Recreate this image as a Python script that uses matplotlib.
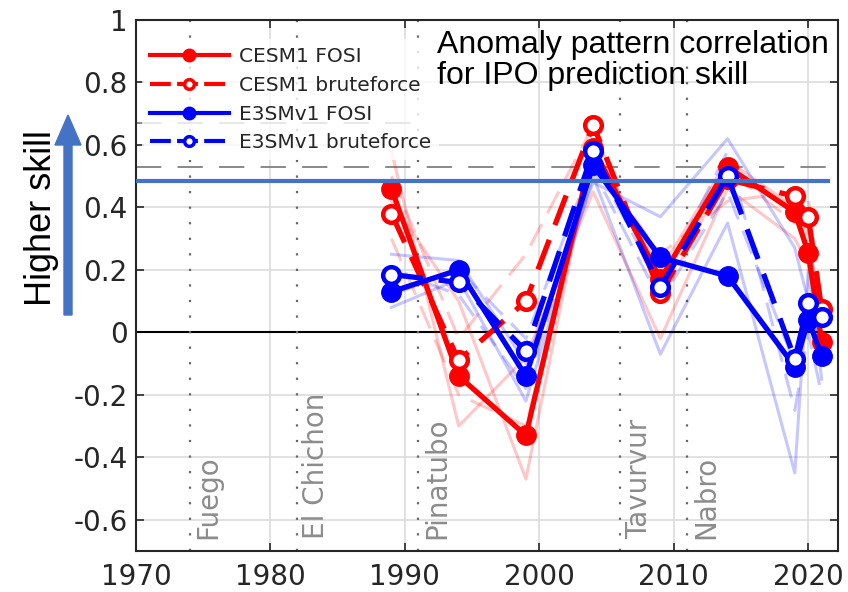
import numpy as np
import matplotlib
matplotlib.use('Agg')
import matplotlib.pyplot as plt
from matplotlib.lines import Line2D
from matplotlib.patches import FancyArrow

years = [1989, 1994, 1999, 2004, 2009, 2014, 2019, 2020, 2021]

cesm_fosi = [0.46, -0.14, -0.33, 0.59, 0.17, 0.53, 0.385, 0.255, -0.03]
cesm_brute = [0.38, -0.09, 0.10, 0.665, 0.125, 0.49, 0.435, 0.37, 0.075]
e3sm_fosi = [0.13, 0.20, -0.14, 0.535, 0.24, 0.18, -0.11, 0.04, -0.075]
e3sm_brute = [0.185, 0.16, -0.06, 0.58, 0.145, 0.50, -0.085, 0.095, 0.05]

# individual ensemble members (faint lines)
cesm_members = [[0.58, -0.30, -0.08, 0.45, -0.02, 0.46, 0.30, 0.22, 0.00],
                [0.42, 0.10, -0.47, 0.60, 0.20, 0.55, 0.40, 0.35, -0.05]]
cesm_members_dash = [[0.50, -0.02, 0.25, 0.66, 0.10, 0.52, 0.35, 0.43, 0.08],
                     [0.30, -0.20, -0.30, 0.55, 0.25, 0.42, 0.45, 0.30, 0.05]]
e3sm_members = [[0.08, 0.17, -0.22, 0.50, -0.07, 0.35, -0.45, 0.20, -0.15],
                [0.25, 0.23, -0.10, 0.48, 0.37, 0.62, 0.27, 0.10, 0.05]]
e3sm_members_dash = [[0.12, 0.20, -0.02, 0.55, 0.15, 0.58, -0.25, 0.00, -0.20],
                     [0.20, 0.12, -0.18, 0.52, 0.10, 0.45, -0.10, 0.10, -0.05]]

volcano_names = ['Fuego', 'El Chichon', 'Pinatubo', 'Tavurvur', 'Nabro']
volcano_years = [1974, 1982, 1991, 2006, 2011]

skill_line = 0.486
ref_dash = 0.53
ref_dash2 = 0.67

fig = plt.figure(figsize=(8.48, 5.92), dpi=100)
ax = fig.add_axes([0.1604, 0.0693, 0.8276, 0.8969])

tc = '#262626'
ax.set_xlim(1970, 2022.2)
ax.set_ylim(-0.7, 1.0)
ax.set_xticks(np.arange(1970, 2021, 10))
ax.set_yticks(np.round(np.arange(-0.6, 1.01, 0.2), 1))
ax.set_yticklabels(['-0.6', '-0.4', '-0.2', '0', '0.2', '0.4', '0.6', '0.8', '1'])
ax.tick_params(direction='in', length=6, width=1.2, top=True, right=True,
               labelsize=20, colors=tc)
ax.tick_params(axis='x', pad=9)
ax.tick_params(axis='y', pad=6)
for s in ax.spines.values():
    s.set_color(tc)
    s.set_linewidth(1.5)
ax.grid(True, color='#dcdcdc', lw=1.2)
ax.set_axisbelow(True)

ax.axhline(0, color='k', lw=1.5, zorder=1)
ax.axhline(ref_dash, color='#808080', lw=1.3, dashes=(14, 9), zorder=1)
ax.axhline(ref_dash2, xmax=0.41, color='#808080', lw=1.3, dashes=(14, 9), zorder=1)

for name, yr in zip(volcano_names, volcano_years):
    ax.axvline(yr, color='#666666', lw=1.6, ls=(0, (1, 6)), zorder=1)
    ax.text(yr + 0.35, -0.662, name, rotation=90, ha='left', va='bottom',
            fontsize=20, color='#8c8c8c')

for m in cesm_members:
    ax.plot(years, m, color='red', lw=2.2, alpha=0.22, zorder=2)
for m in cesm_members_dash:
    ax.plot(years, m, color='red', lw=2.2, alpha=0.22, dashes=(8, 4), zorder=2)
for m in e3sm_members:
    ax.plot(years, m, color='blue', lw=2.2, alpha=0.22, zorder=2)
for m in e3sm_members_dash:
    ax.plot(years, m, color='blue', lw=2.2, alpha=0.22, dashes=(8, 4), zorder=2)

lw = 3.8
ax.plot(years, cesm_fosi, color='red', lw=lw, marker='o', ms=14, zorder=4)
ax.plot(years, cesm_brute, color='red', lw=lw, dashes=(6, 3), marker='o', ms=12,
        mfc='white', mew=3.2, zorder=4)
ax.plot(years, e3sm_fosi, color='blue', lw=lw, marker='o', ms=14, zorder=5)
ax.plot(years, e3sm_brute, color='blue', lw=lw, dashes=(6, 3), marker='o', ms=12,
        mfc='white', mew=3.2, zorder=5)

ax.axhline(skill_line, xmax=0.986, color='#4472c4', lw=3, zorder=6)

handles = [Line2D([], [], color='red', lw=3, marker='o', ms=9),
           Line2D([], [], color='red', lw=3, dashes=(5, 1.5), marker='o', ms=7,
                  mfc='white', mew=2.5),
           Line2D([], [], color='blue', lw=3, marker='o', ms=9),
           Line2D([], [], color='blue', lw=3, dashes=(5, 1.5), marker='o', ms=7,
                  mfc='white', mew=2.5)]
labels = ['CESM1 FOSI', 'CESM1 bruteforce', 'E3SMv1 FOSI', 'E3SMv1 bruteforce']
leg = ax.legend(handles, labels, loc='upper left', fontsize=14.5, handlelength=3.9,
                frameon=True, borderaxespad=0.3, labelspacing=0.48,
                handletextpad=0.5, bbox_to_anchor=(0.0, 0.975))
leg.get_frame().set_facecolor('white')
leg.get_frame().set_alpha(0.8)
leg.get_frame().set_edgecolor('none')
for t in leg.get_texts():
    t.set_color(tc)

fig.text(437 / 848, 1 - 30 / 592, 'Anomaly pattern correlation\nfor IPO prediction skill',
         fontsize=23, family='Liberation Sans', color='black', ha='left', va='top',
         linespacing=1.05)

fig.text(42 / 848, 1 - 218 / 592, 'Higher skill', rotation=90, fontsize=26,
         family='Liberation Sans', color='black', ha='center', va='center')
fig.patches.append(FancyArrow(
    68 / 848, 1 - 315 / 592, 0, (315 - 115) / 592, width=8 / 848,
    head_width=26 / 848, head_length=30 / 592, length_includes_head=True,
    color='#4472c4', transform=fig.transFigure, figure=fig))

fig.savefig('out.png', dpi=100)
